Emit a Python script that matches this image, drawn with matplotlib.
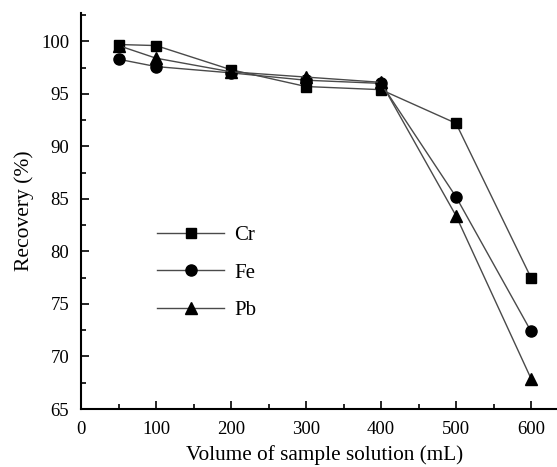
import numpy as np
import matplotlib.pyplot as plt
from matplotlib.ticker import MultipleLocator

plt.rcParams['font.family'] = ['Liberation Serif', 'DejaVu Serif']

volume = [50, 100, 200, 300, 400, 500, 600]
cr = [99.7, 99.6, 97.3, 95.7, 95.4, 92.2, 77.5]
fe = [98.3, 97.6, 97.0, 96.3, 96.0, 85.2, 72.4]
pb = [99.6, 98.4, 97.1, 96.6, 96.1, 83.4, 67.9]

fig = plt.figure(figsize=(5.57, 4.67), dpi=100)
# the x axis runs to 650, a bit past the right edge of the picture
ax = fig.add_axes([81/557, 1-409/467, 487.5/557, (409-13)/467])

line_kw = dict(color='#4a4a4a', linewidth=1.0, markerfacecolor='black',
               markeredgecolor='black')
ax.plot(volume, cr, marker='s', markersize=7.5, label='Cr', **line_kw)
ax.plot(volume, fe, marker='o', markersize=8, label='Fe', **line_kw)
ax.plot(volume, pb, marker='^', markersize=8.5, label='Pb', **line_kw)

ax.set_xlim(0, 650)
ax.set_ylim(65, 102.7)
ax.xaxis.set_major_locator(MultipleLocator(100))
ax.xaxis.set_minor_locator(MultipleLocator(50))
ax.yaxis.set_major_locator(MultipleLocator(5))
ax.yaxis.set_minor_locator(MultipleLocator(2.5))
ax.tick_params(which='both', direction='in', labelsize=13.5, width=1.2, pad=8.5)
ax.tick_params(which='major', length=6)
ax.tick_params(which='minor', length=3.5)
ax.spines['top'].set_visible(False)
ax.spines['right'].set_visible(False)
ax.spines['left'].set_linewidth(1.5)
ax.spines['bottom'].set_linewidth(1.5)

ax.set_xlabel('Volume of sample solution (mL)', fontsize=15.3, labelpad=5.5)
ax.set_ylabel('Recovery (%)', fontsize=15.5, labelpad=5)

ax.legend(loc='upper left', bbox_to_anchor=(0.118, 0.51), frameon=False,
          fontsize=15, handlelength=3.2, labelspacing=0.85, handletextpad=0.5)

fig.savefig('out.png', dpi=100)
